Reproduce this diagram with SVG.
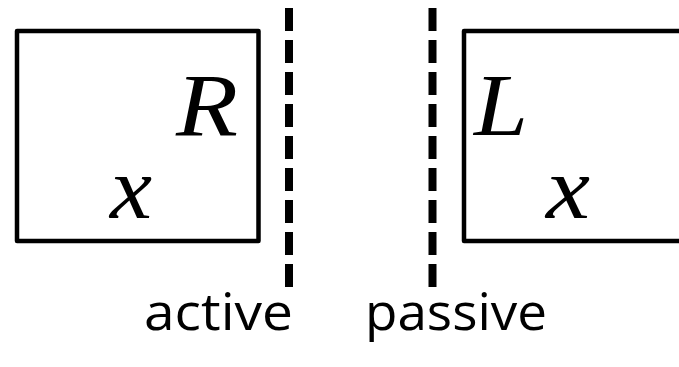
<svg xmlns="http://www.w3.org/2000/svg" width="679" height="367" viewBox="0 0 679 367">
<style>
.box{fill:none;stroke:#000;stroke-width:4.5;stroke-linejoin:round}
.div{stroke:#000;stroke-width:8;stroke-dasharray:23 9}
</style>
<rect width="679" height="367" fill="#fff"/>
<g id="active-box" font-family="Liberation Serif" font-style="italic" font-size="44">
<rect class="box" x="17" y="31" width="241.5" height="210"/>
<text transform="translate(176,135) scale(2)" x="0" y="0" textLength="31" lengthAdjust="spacingAndGlyphs">R</text>
<text transform="translate(110,218) scale(2)" x="0" y="0" textLength="21" lengthAdjust="spacingAndGlyphs">x</text>
</g>
<g id="passive-box" font-family="Liberation Serif" font-style="italic" font-size="44">
<rect class="box" x="464" y="31" width="240" height="210"/>
<text transform="translate(474,135) scale(2)" x="0" y="0" textLength="27" lengthAdjust="spacingAndGlyphs">L</text>
<text transform="translate(546,218) scale(2)" x="0" y="0" textLength="22" lengthAdjust="spacingAndGlyphs">x</text>
</g>
<g id="connectors">
<line class="div" x1="289" y1="8" x2="289" y2="288"/>
<line class="div" x1="432.5" y1="8" x2="432.5" y2="288"/>
</g>
<g id="labels" font-family="Open Sans" font-size="52">
<text x="144" y="330" textLength="149" lengthAdjust="spacingAndGlyphs">active</text>
<text x="365" y="330" textLength="182" lengthAdjust="spacingAndGlyphs">passive</text>
</g>
</svg>
